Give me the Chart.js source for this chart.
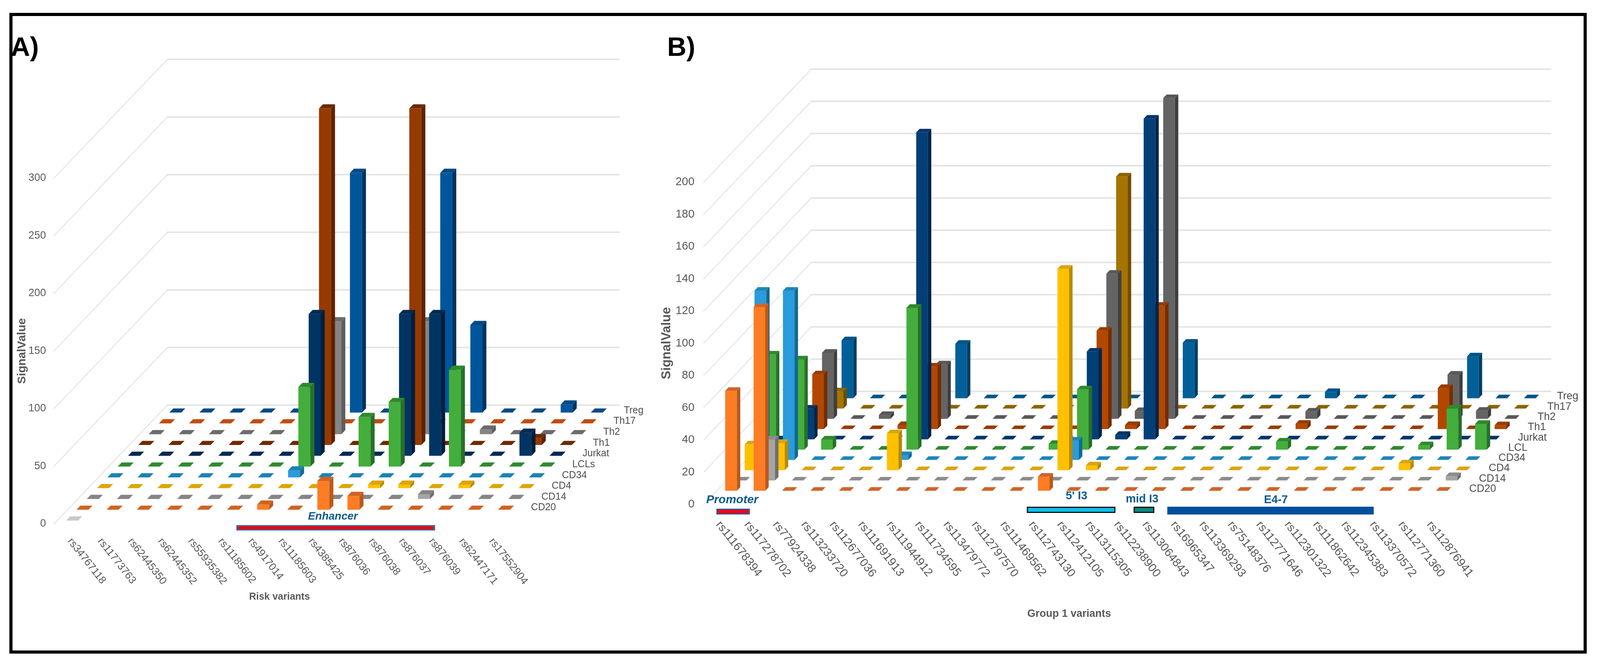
<!DOCTYPE html>
<html>
<head>
<meta charset="utf-8">
<title>Signal value of variants across cell types</title>
<script src="https://cdn.jsdelivr.net/npm/chart.js@4"></script>
<style>
html,body{margin:0;padding:0;background:#fff;overflow:hidden}
canvas{position:absolute;left:0;top:0}
#frame{position:absolute;top:33px;height:1640px;box-sizing:border-box;border:8px solid #000;pointer-events:none}
</style>
</head>
<body>
<canvas id="a"></canvas>
<canvas id="b"></canvas>
<div id="frame"></div>
<script>
// ---------- Panel A data ----------
const variantsA = ['rs34767118','rs11773763','rs62445350','rs62445352','rs55935382','rs11185602','rs4917014','rs11185603','rs4385425','rs876036','rs876038','rs876037','rs876039','rs62447171','rs17552904'];
const a_Front  = [0,null,null,null,null,null,null,null,null,null,null,null,null,null,null];
const a_CD20   = [0,0,0,0,0,0,4.5,0,25,12,0,0,0,0,0];
const a_CD14   = [0,0,0,0,0,0,0,0,0,0,0,4,0,0,0];
const a_CD4    = [0,0,0,0,0,0,0,0,0,3,3,0,3,0,0];
const a_CD34   = [0,0,0,0,0,0,6,0,0,0,0,0,0,0,0];
const a_LCLs   = [0,0,0,0,0,0,69,0,43,56,0,84,0,0,0];
const a_Jurkat = [0,0,0,0,0,0,123,0,0,123,123,0,0,20,0];
const a_Th1    = [0,0,0,0,0,0,292,0,0,292,0,0,0,6,0];
const a_Th2    = [0,0,0,0,0,0,98,0,0,98,0,4,0,0,0];
const a_Th17   = [0,0,0,0,0,0,0,0,0,0,0,0,0,0,0];
const a_Treg   = [0,0,0,0,0,0,208,0,0,208,76,0,0,7,0];

// ---------- Panel B data ----------
const variantsB = ['rs111678394','rs117278702','rs77924338','rs113233720','rs112677036','rs111691913','rs111944912','rs111734595','rs113479772','rs112797570','rs111469562','rs112743130','rs112412105','rs113115305','rs112238900','rs113064843','rs16965347','rs113369293','rs75148376','rs112771646','rs112301322','rs111862642','rs112345383','rs113370572','rs112771360','rs112876941'];
const b_CD20   = [62,114,0,0,0,0,0,0,0,0,0,8.7,0,0,0,0,0,0,0,0,0,0,0,0,0,0];
const b_CD14   = [0,25.4,0,0,0,0,0,0,0,0,0,0,0,0,0,0,0,0,0,0,0,0,0,0,0,2.7];
const b_CD4    = [16,16.8,0,0,0,22.9,0,0,0,0,0,125,3,0,0,0,0,0,0,0,0,0,0,4.2,0,0];
const b_CD34   = [105,105,0,0,0,3,0,0,0,0,0,12,0,0,0,0,0,0,0,0,0,0,0,0,0,0];
const b_LCL    = [59,56,6.3,0,0,88,0,0,0,0,3.6,37.4,0,0,0,0,0,0,5,0,0,0,0,2.7,25.5,16];
const b_Jurkat = [0,19,0,0,0,190.5,0,0,0,0,0,54.5,2.8,199,0,0,0,0,0,0,0,0,0,0,0,0];
const b_Th1    = [0,34,0,0,2.5,38.8,0,0,0,0,0,61,2.5,76.5,0,0,0,0,3.3,0,0,0,0,25.5,0,2.4];
const b_Th2    = [0,41,0,2.4,0,33.8,0,0,0,0,0,90,4.8,199,0,0,0,0,4.5,0,0,0,0,27.4,5,0];
const b_Th17   = [0,10.7,0,0,0,0,0,0,0,0,0,144,0,0,0,0,0,0,0,0,0,0,0,0,0,0];
const b_Treg   = [0,36,0,0,0,33.8,0,0,0,0,0,0,0,34.5,0,0,0,0,3.9,0,0,0,0,26,0,0];

// ---------- Styles: [front, side, top] ----------
const stylesA = {
  Front:['#d0d0d0','#b0b0b0','#c8c8c8'], CD20:['#fd7c24','#b85a1c','#cf6322'], CD14:['#a5a5a5','#707070','#858585'],
  CD4:['#ffc000','#b78a00','#dca600'], CD34:['#2a9bdc','#14698f','#1c82b4'], LCLs:['#43ae3c','#27702a','#2f8a2d'],
  Jurkat:['#003462','#001d3d','#002a52'], Th1:['#963a00','#5c2200','#6e2a00'], Th2:['#848484','#5e5e5e','#6c6c6c'],
  Th17:['#c5500f','#8a380a','#c04d10'], Treg:['#01569b','#023260','#014a86']
};
const stylesB = {
  CD20:['#fd7c24','#b85a1c','#d0652a'], CD14:['#a5a5a5','#6e6e6e','#8c8c8c'], CD4:['#ffc000','#b78a00','#d8a510'],
  CD34:['#2a9bdc','#14698f','#1f86b8'], LCL:['#43ae3c','#27702a','#2f8a2d'], Jurkat:['#033f77','#01244a','#02356a'],
  Th1:['#b34700','#742d00','#973c05'], Th2:['#646464','#3f3f3f','#595959'], Th17:['#a67400','#6f4e00','#8a6400'],
  Treg:['#026099','#023f68','#025488']
};

// The layout was measured on a 5633-wide page. k fits it to the real window width.
const DESIGN_W = 5633, PAGE_H = 1715;
const PAGE_W = Math.min(DESIGN_W, window.innerWidth || DESIGN_W);
const k = PAGE_W / DESIGN_W;
const frame = document.getElementById('frame');
frame.style.left = (33*k)+'px';
frame.style.width = (5553*k)+'px';

const FONT = '"Liberation Sans"';
const GRID = '#e4e4e4', TXT = '#595959', NOTE = '#0b5a8c';
const LABEL_ANGLE = Math.atan2(110, 119*k);

function series(defs, styles){
  return defs.map(([label,row,data]) => ({
    label, row, data,
    backgroundColor: styles[label][0],
    sideColor: styles[label][1],
    topColor: styles[label][2],
    categoryPercentage: 1,
    grouped: false
  }));
}

// Oblique 3D floor, walls and bars, placed from the chart's own scales and bar elements.
const floor3d = {
  id: 'floor3d',
  beforeDatasetsDraw(chart, args, o){
    const c = chart.ctx, x = chart.scales.x, y = chart.scales.y;
    const dx = o.rowDx, dy = o.rowDy, n = o.rows;
    c.save();
    c.lineCap = 'round';
    y.ticks.forEach(t => {
      const py = y.getPixelForValue(t.value);
      c.strokeStyle = GRID;
      c.lineWidth = 2.5;
      c.beginPath(); c.moveTo(x.left, py); c.lineTo(x.left + n*dx, py - n*dy); c.stroke();
      c.lineWidth = 4;
      c.beginPath(); c.moveTo(x.left + n*dx, py - n*dy); c.lineTo(x.right + n*dx, py - n*dy); c.stroke();
    });
    const order = chart.data.datasets.map((d,i) => i).sort((p,q) => chart.data.datasets[q].row - chart.data.datasets[p].row);
    order.forEach(i => {
      const ds = chart.data.datasets[i], meta = chart.getDatasetMeta(i);
      const rf = ds.row + (1 - o.depth)/2, sx = o.depth*dx, sy = o.depth*dy;
      meta.data.forEach((el, j) => {
        const v = ds.data[j];
        if (v === null || v === undefined) return;
        const l = el.x - el.width/2 + rf*dx, r = l + el.width;
        const b = el.base - rf*dy, t = el.y - rf*dy;
        if (v > 0) {
          c.fillStyle = ds.backgroundColor;
          c.fillRect(l, t, el.width, b - t);
          c.fillStyle = ds.sideColor;
          c.beginPath(); c.moveTo(r,b); c.lineTo(r+sx,b-sy); c.lineTo(r+sx,t-sy); c.lineTo(r,t); c.closePath(); c.fill();
        }
        c.fillStyle = ds.topColor;
        c.beginPath(); c.moveTo(l,t); c.lineTo(r,t); c.lineTo(r+sx,t-sy); c.lineTo(l+sx,t-sy); c.closePath(); c.fill();
      });
    });
    c.restore();
    return false;
  },
  afterDraw(chart, args, o){
    const c = chart.ctx, x = chart.scales.x, y = chart.scales.y;
    c.save();
    // variant labels along the front edge
    c.fillStyle = TXT; c.font = o.tickFont; c.textAlign = 'left'; c.textBaseline = 'middle';
    chart.data.labels.forEach((lab, i) => {
      c.save();
      c.translate(x.getPixelForTick(i) + o.tickDx, y.bottom + o.tickDy);
      c.rotate(LABEL_ANGLE);
      c.fillText(lab, 0, 0);
      c.restore();
    });
    // cell-type labels along the right edge
    c.fillStyle = '#4d4d4d'; c.font = o.rowFont;
    chart.data.datasets.forEach(ds => {
      if (ds.label === 'Front') return;
      c.fillText(ds.label, x.right + (ds.row+.5)*o.rowDx + o.rowLabelDx, y.bottom - (ds.row+.5)*o.rowDy);
    });
    // region bars
    o.regions.forEach(g => {
      c.fillStyle = g.stroke; c.fillRect(g.x0*k, g.y0, (g.x1-g.x0)*k, g.y1-g.y0);
      c.fillStyle = g.fill; c.fillRect(g.x0*k+g.lw, g.y0+g.lw, (g.x1-g.x0)*k-2*g.lw, g.y1-g.y0-2*g.lw);
      c.fillStyle = NOTE; c.font = g.font; c.textAlign = 'center'; c.textBaseline = 'middle';
      c.fillText(g.text, g.tx*k, g.ty);
    });
    // category-axis title and panel letter
    c.fillStyle = TXT; c.font = o.xTitleFont; c.textAlign = 'center';
    c.fillText(o.xTitle, o.xTitleX*k, o.xTitleY);
    c.fillStyle = '#000'; c.font = 'bold 68px '+FONT; c.textAlign = 'left'; c.textBaseline = 'alphabetic';
    c.fillText(o.letter, o.letterX*k, 143);
    c.restore();
  }
};

function make(id, cfg){
  const canvas = document.getElementById(id);
  canvas.width = PAGE_W; canvas.height = PAGE_H;
  const lh = cfg.yTitle*1.2;
  const axisLeft = cfg.titleX*k - lh/2;
  const areaLeft = cfg.areaLeft*k, areaRight = cfg.areaRight*k;
  return new Chart(canvas, {
    type: 'bar',
    data: { labels: cfg.labels, datasets: cfg.datasets },
    plugins: [floor3d],
    options: {
      responsive: false, animation: false, events: [],
      devicePixelRatio: 1,
      datasets: { bar: { barPercentage: cfg.barPct } },
      layout: { padding: { left: axisLeft, right: PAGE_W-areaRight, top: cfg.top, bottom: PAGE_H-cfg.bottom }, autoPadding: false },
      plugins: { legend:{display:false}, tooltip:{enabled:false}, title:{display:false}, floor3d: cfg.geom },
      scales: {
        x: { type:'category', offset:true, grid:{display:false}, border:{display:false}, ticks:{display:false},
             afterFit(s){ s.height = 0; } },
        y: { type:'linear', min:0, max:cfg.yMax, grid:{display:false, drawTicks:false}, border:{display:false},
             ticks:{ stepSize:cfg.yStep, padding:cfg.tickPad*k, color:TXT, font:{family:'Liberation Sans', size:cfg.yFont} },
             title:{ display:true, text:'SignalValue', color:TXT, padding:0, font:{family:'Liberation Sans', size:cfg.yTitle, weight:'bold'} },
             afterFit(s){ s.width = areaLeft-axisLeft; } }
      }
    }
  });
}

const ITALIC = 'italic bold 30px '+FONT, PLAIN = 'bold 29px '+FONT;

make('a', {
  labels: variantsA,
  datasets: series([['Front',0,a_Front],['CD20',1,a_CD20],['CD14',2,a_CD14],['CD4',3,a_CD4],['CD34',4,a_CD34],['LCLs',5,a_LCLs],['Jurkat',6,a_Jurkat],['Th1',7,a_Th1],['Th2',8,a_Th2],['Th17',9,a_Th17],['Treg',10,a_Treg]], stylesA),
  barPct: .4, yMax: 300, yStep: 50, tickPad: 28, yFont: 27, yTitle: 30, titleX: 78,
  areaLeft: 190, areaRight: 1780, top: 456, bottom: 1341,
  geom: { rowDx: 36.3*k, rowDy: 27.64, rows: 11, depth: .385,
    tickFont: '27px '+FONT, tickDx: 2*k, tickDy: 40,
    rowFont: '25px '+FONT, rowLabelDx: 35*k,
    xTitle: 'Risk variants', xTitleX: 984, xTitleY: 1528, xTitleFont: 'bold 25px '+FONT,
    letter: 'A)', letterX: 38,
    regions: [ {text:'Enhancer', font:'italic bold 28px '+FONT, tx:1172, ty:1322, x0:832, x1:1532, y0:1344, y1:1358, lw:3, fill:'#f00010', stroke:'#2e75b6'} ] }
});

make('b', {
  labels: variantsB,
  datasets: series([['CD20',1,b_CD20],['CD14',2,b_CD14],['CD4',3,b_CD4],['CD34',4,b_CD34],['LCL',5,b_LCL],['Jurkat',6,b_Jurkat],['Th1',7,b_Th1],['Th2',8,b_Th2],['Th17',9,b_Th17],['Treg',10,b_Treg]], stylesB),
  barPct: .41, yMax: 200, yStep: 20, tickPad: 33, yFont: 29, yTitle: 33, titleX: 2348,
  areaLeft: 2478, areaRight: 5080.6, top: 466, bottom: 1291,
  geom: { rowDx: 34.4*k, rowDy: 26.3, rows: 11, depth: .35,
    tickFont: '30px '+FONT, tickDx: 0, tickDy: 47,
    rowFont: '27px '+FONT, rowLabelDx: 40*k,
    xTitle: 'Group 1 variants', xTitleX: 3764, xTitleY: 1572, xTitleFont: 'bold 27px '+FONT,
    letter: 'B)', letterX: 2349,
    regions: [
      {text:'Promoter', font:ITALIC, tx:2578, ty:1280, x0:2522, x1:2640, y0:1302, y1:1317, lw:3, fill:'#ff0010', stroke:'#2e5b9e'},
      {text:"5' I3", font:PLAIN, tx:3790, ty:1270, x0:3615, x1:3927, y0:1297, y1:1313, lw:3, fill:'#0cc0ea', stroke:'#111111'},
      {text:'mid I3', font:PLAIN, tx:4021, ty:1278, x0:3991, x1:4064, y0:1297, y1:1313, lw:3, fill:'#0b8a80', stroke:'#111111'},
      {text:'E4-7', font:PLAIN, tx:4492, ty:1280, x0:4110, x1:4836, y0:1297, y1:1317, lw:0, fill:'#004f9f', stroke:'#004f9f'}
    ] }
});
</script>
</body>
</html>
